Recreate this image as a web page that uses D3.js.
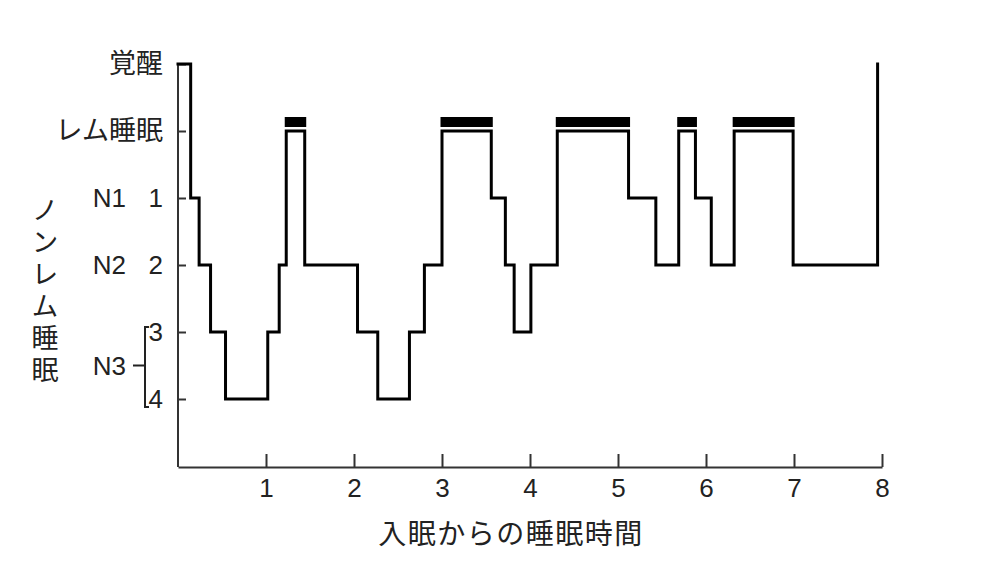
<!DOCTYPE html>
<html>
<head>
<meta charset="utf-8">
<script src="https://cdn.jsdelivr.net/npm/d3@7"></script>
<style>
  html, body { margin: 0; padding: 0; background: #fff; }
  svg { display: block; }
</style>
</head>
<body>
<svg id="chart" width="1002" height="575"></svg>
<script>
// ---- data ----
// stage code: 0 覚醒, 1 レム睡眠, 2 N1(1), 3 N2(2), 4 N3(3), 5 N3(4)
const times  = [0, 0.144, 0.24, 0.37, 0.54, 1.02, 1.15, 1.23, 1.44, 2.04, 2.27, 2.63, 2.80, 3.0,
                3.56, 3.72, 3.82, 4.01, 4.31, 5.12, 5.43, 5.69, 5.88, 6.06, 6.32, 6.99, 7.95];
const stages = [0, 2, 3, 4, 5, 4, 3, 1, 3, 4, 5, 4, 3, 1,
                2, 3, 4, 3, 1, 2, 3, 1, 2, 3, 1, 3, 0];
const xTicks = [1, 2, 3, 4, 5, 6, 7, 8];
const yTicks = [0, 1, 2, 3, 4, 5];
const yTickLabels = ["覚醒", "レム睡眠", "1", "2", "3", "4"];
const stageNames = [{name: "N1", at: 2}, {name: "N2", at: 3}, {name: "N3", at: 4.5}];
const verticalLabel = "ノンレム睡眠";
const xTitle = "入眠からの睡眠時間";

// ---- scales ----
const svg = d3.select("#chart");
const x = d3.scaleLinear().domain([0, 8]).range([178, 882]);
const y = d3.scaleLinear().domain([0, 6]).range([64, 466]);

const cjk = "'Noto Sans CJK JP', sans-serif";
const latin = "'Liberation Sans', Arial, sans-serif";
const axisColor = "#333";

// ---- x axis ----
const gx = svg.append("g")
  .attr("transform", `translate(0,${y(6) + 1})`)
  .call(d3.axisBottom(x).tickValues(xTicks).tickSizeInner(-13).tickSizeOuter(0).tickPadding(12).tickFormat(d3.format("d")));
gx.select(".domain").attr("stroke", axisColor).attr("stroke-width", 2);
gx.selectAll(".tick line").attr("stroke", axisColor).attr("stroke-width", 2);
gx.selectAll(".tick text").attr("font-family", latin).attr("font-size", 26).attr("fill", "#222");

// ---- y axis ----
const gy = svg.append("g")
  .attr("transform", `translate(${x(0)},0)`)
  .call(d3.axisLeft(y).tickValues(yTicks).tickSizeInner(-8).tickSizeOuter(0).tickPadding(15)
    .tickFormat((d, i) => yTickLabels[i]));
gy.select(".domain").attr("stroke", axisColor).attr("stroke-width", 2)
  .attr("d", `M0,${y(0)}V${y(6) + 1}`);
gy.selectAll(".tick line").attr("stroke", axisColor).attr("stroke-width", 2);
gy.selectAll(".tick text")
  .attr("fill", "#222")
  .attr("font-family", (d) => d <= 1 ? cjk : latin)
  .attr("font-size", (d) => d <= 1 ? 27 : 26);

// ---- stage names ----
svg.append("g").selectAll("text").data(stageNames).join("text")
  .attr("x", 126).attr("y", d => y(d.at)).attr("dy", "0.36em")
  .attr("text-anchor", "end")
  .attr("font-family", latin).attr("font-size", 26).attr("fill", "#222")
  .text(d => d.name);

// bracket for N3
const bx = 145;
svg.append("path")
  .attr("d", `M${bx + 4},${y(4) - 5}H${bx}V${y(5) + 8}H${bx + 4}M${bx - 12},${y(4.5)}H${bx}`)
  .attr("fill", "none").attr("stroke", "#222").attr("stroke-width", 2);

// vertical label (single text, vertical writing mode)
svg.append("text")
  .attr("x", 45).attr("y", 196)
  .style("writing-mode", "vertical-rl")
  .attr("text-anchor", "start")
  .attr("font-family", cjk).attr("font-size", 27).attr("letter-spacing", 5).attr("fill", "#222")
  .text(verticalLabel);

// x title
svg.append("text")
  .attr("x", 511).attr("y", 534).attr("dy", "0.36em")
  .attr("text-anchor", "middle")
  .attr("font-family", cjk).attr("font-size", 28).attr("letter-spacing", 1.5).attr("fill", "#222")
  .text(xTitle);

// ---- REM bars ----
const remSegs = [];
for (let i = 0; i < stages.length - 1; i++) {
  if (stages[i] === 1) remSegs.push([times[i], times[i + 1]]);
}
svg.append("g").selectAll("rect").data(remSegs).join("rect")
  .attr("x", d => x(d[0]) - 1.5)
  .attr("width", d => x(d[1]) - x(d[0]) + 3)
  .attr("y", y(1) - 14)
  .attr("height", 10)
  .attr("fill", "#000");

// ---- hypnogram trace ----
const pts = times.map((t, i) => [t, stages[i]]);
const line = d3.line().x(d => x(d[0])).y(d => y(d[1])).curve(d3.curveStepAfter);
svg.append("path")
  .attr("d", line(pts))
  .attr("fill", "none")
  .attr("stroke", "#000")
  .attr("stroke-width", 3)
  .attr("stroke-linejoin", "miter")
  .attr("stroke-linecap", "square");
</script>
</body>
</html>
